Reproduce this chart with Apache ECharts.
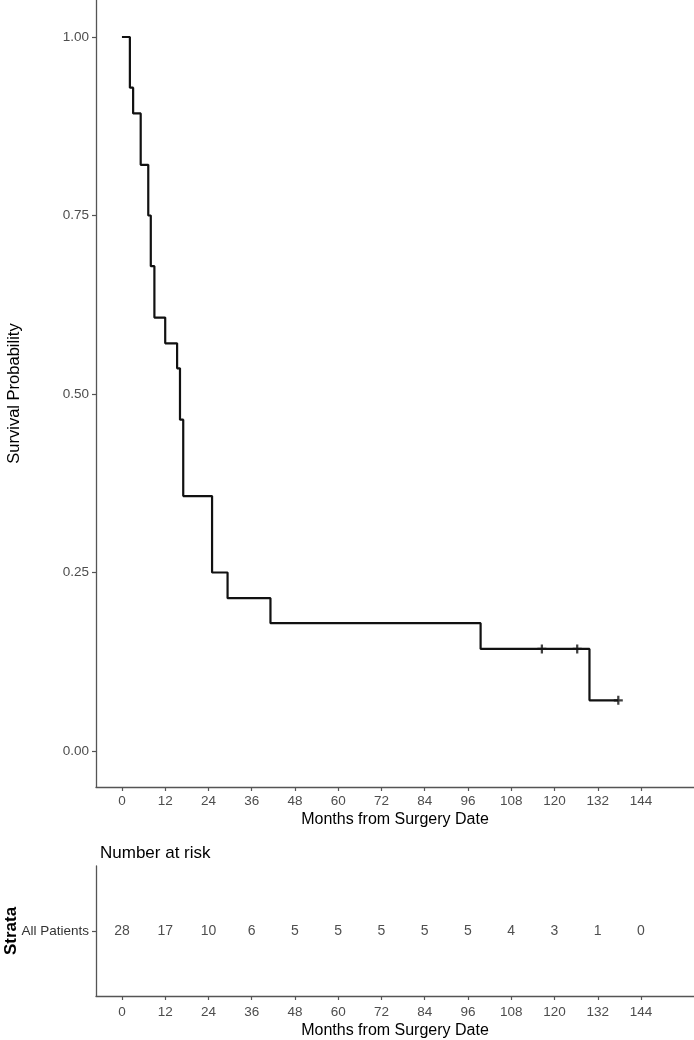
<!DOCTYPE html>
<html>
<head>
<meta charset="utf-8">
<script src="https://cdn.jsdelivr.net/npm/echarts@6/dist/echarts.min.js"></script>
<style>
  html, body { margin: 0; padding: 0; background: #fff; }
  #chart { width: 694px; height: 1040px; }
</style>
</head>
<body>
<div id="chart"></div>
<script>
// Kaplan-Meier step points (months, survival)
var kmTimes = [0, 2.2, 3.1, 5.2, 7.3, 8.0, 9.0, 12.0, 15.3, 16.1, 17.0, 25.0, 29.3, 41.2, 99.5, 129.7, 137.7];
var kmSurv  = [1.0, 0.929, 0.893, 0.821, 0.75, 0.679, 0.607, 0.571, 0.536, 0.464, 0.357, 0.25, 0.214, 0.179, 0.143, 0.071, 0.071];

// censored observations
var censorTimes = [116.5, 126.3, 137.7];
var censorSurv  = [0.143, 0.143, 0.071];

// x ticks and the risk table
var xTicks = [0, 12, 24, 36, 48, 60, 72, 84, 96, 108, 120, 132, 144];
var yTicks = [0, 0.25, 0.5, 0.75, 1];
var strata = ['All Patients'];
var atRisk = [28, 17, 10, 6, 5, 5, 5, 5, 5, 4, 3, 1, 0];

var FONT = '"Liberation Sans", Arial, sans-serif';
var AXIS_COL = '#555';
var TICK_TXT = '#4d4d4d';

var kmData = kmTimes.map(function (t, i) { return [t, kmSurv[i]]; });
var censorData = censorTimes.map(function (t, i) { return [t, censorSurv[i]]; });
var riskData = xTicks.map(function (t, i) { return [t, strata[0], atRisk[i]]; });

function xAxisCfg(gridIndex, labelMargin, nameGap) {
    return {
        type: 'value', gridIndex: gridIndex,
        min: -7.2, max: 158.7,
        name: 'Months from Surgery Date', nameLocation: 'middle', nameGap: nameGap,
        nameMoveOverlap: false,
        nameTextStyle: { fontFamily: FONT, fontSize: 16, color: '#000' },
        axisLine: { show: true, onZero: false, lineStyle: { color: AXIS_COL, width: 1.3 } },
        axisTick: { show: true, length: 4, customValues: xTicks, lineStyle: { color: AXIS_COL, width: 1.2 } },
        axisLabel: { customValues: xTicks, margin: labelMargin, fontFamily: FONT, fontSize: 13.5, color: TICK_TXT },
        splitLine: { show: false }
    };
}

var chart = echarts.init(document.getElementById('chart'), null, { renderer: 'canvas' });

chart.setOption({
    backgroundColor: '#fff',
    animation: false,
    title: {
        text: 'Number at risk', left: 95, top: 840,
        textStyle: { fontFamily: FONT, fontSize: 17, fontWeight: 'normal', color: '#000' }
    },
    grid: [
        { left: 96, right: 0, top: 0, bottom: 253, containLabel: false, outerBoundsMode: 'none' },
        { left: 96, right: 0, top: 866, bottom: 44, containLabel: false, outerBoundsMode: 'none' }
    ],
    xAxis: [
        xAxisCfg(0, 7, 25),
        xAxisCfg(1, 9, 27)
    ],
    yAxis: [
        {
            type: 'value', gridIndex: 0,
            min: -0.0504, max: 1.0518,
            name: 'Survival Probability', nameLocation: 'middle', nameGap: 73, nameRotate: 90,
            nameMoveOverlap: false,
            nameTextStyle: { fontFamily: FONT, fontSize: 16.5, color: '#000' },
            axisLine: { show: true, onZero: false, lineStyle: { color: AXIS_COL, width: 1.3 } },
            axisTick: { show: true, length: 4, customValues: yTicks, lineStyle: { color: AXIS_COL, width: 1.2 } },
            axisLabel: {
                customValues: yTicks, margin: 7, fontFamily: FONT, fontSize: 13.5, color: TICK_TXT,
                formatter: function (v) { return v.toFixed(2); }
            },
            splitLine: { show: false }
        },
        {
            type: 'category', gridIndex: 1, data: strata,
            name: 'Strata', nameLocation: 'middle', nameGap: 76, nameRotate: 90,
            nameMoveOverlap: false,
            nameTextStyle: { fontFamily: FONT, fontSize: 17, fontWeight: 'bold', color: '#000' },
            axisLine: { show: true, onZero: false, lineStyle: { color: AXIS_COL, width: 1.3 } },
            axisTick: { show: true, length: 4, alignWithLabel: true, lineStyle: { color: AXIS_COL, width: 1.2 } },
            axisLabel: { margin: 7, fontFamily: FONT, fontSize: 13.5, color: '#333' },
            splitLine: { show: false }
        }
    ],
    series: [
        {
            type: 'line', xAxisIndex: 0, yAxisIndex: 0,
            step: 'end', data: kmData, symbol: 'none',
            lineStyle: { color: '#111', width: 2.2 }
        },
        {
            type: 'scatter', xAxisIndex: 0, yAxisIndex: 0,
            data: censorData,
            symbol: 'path://M-1,-4H1V-1H4V1H1V4H-1V1H-4V-1H-1Z',
            symbolSize: 9,
            itemStyle: { color: '#111' }
        },
        {
            type: 'scatter', xAxisIndex: 1, yAxisIndex: 1,
            data: riskData, symbolSize: 1,
            itemStyle: { color: 'rgba(0,0,0,0)' },
            label: {
                show: true, position: 'inside',
                fontFamily: FONT, fontSize: 14, color: '#222',
                formatter: function (p) { return p.value[2]; }
            }
        }
    ]
});
</script>
</body>
</html>
